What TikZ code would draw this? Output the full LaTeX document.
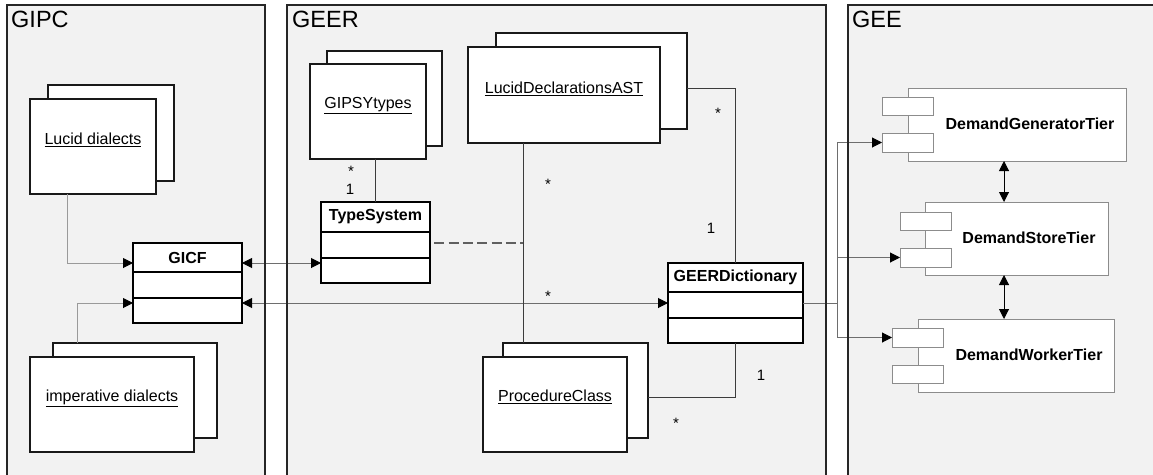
\documentclass[tikz,border=0pt]{standalone}
\usepackage{fontspec}
\setmainfont{Liberation Sans}
\usetikzlibrary{arrows.meta,calc}
\definecolor{panelfill}{HTML}{F2F2F2}
\definecolor{conncol}{HTML}{6E6E6E}
\definecolor{lconncol}{HTML}{9A9A9A}
\definecolor{assoccol}{HTML}{3C3C3C}
\definecolor{compcol}{HTML}{8C8C8C}
\definecolor{dashcol}{HTML}{606060}
\begin{document}
\begin{tikzpicture}[x=1pt,y=-1pt,
  panel/.style={fill=panelfill, draw=none, inner sep=0pt, outer sep=0pt, anchor=north west},
  panelborder/.style={draw=black!85, line width=1.2pt},
  sbox/.style={draw=black!90, fill=white, line width=1.2pt, inner sep=0pt, outer sep=0pt, anchor=north west},
  cbox/.style={draw=black, fill=white, line width=1.3pt, inner sep=0pt, outer sep=0pt, anchor=north west},
  comp/.style={draw=compcol, fill=white, line width=1pt, inner sep=0pt, outer sep=0pt, anchor=north west},
  ptitle/.style={font=\fontsize{23.5}{26}\selectfont, anchor=base west, inner sep=0pt},
  objtxt/.style={font=\fontsize{16}{18}\selectfont, inner sep=0pt},
  bldtxt/.style={font=\fontsize{16}{18}\selectfont\bfseries, inner sep=0pt},
  mult/.style={font=\fontsize{15}{17}\selectfont, inner sep=0pt},
  lconn/.style={draw=lconncol, line width=1pt},
  conn/.style={draw=conncol, line width=1pt},
  assoc/.style={draw=assoccol, line width=1pt},
  tierarrow/.style={draw=black, line width=1pt},
  >={Triangle[length=10pt,width=10pt,color=black]}
]
\useasboundingbox (0,0) rectangle (1153,474);
\clip (0,0) rectangle (1153,474);

% panels
\node[panel, minimum width=258pt, minimum height=480pt] (gipc) at (7,5) {};
\node[panel, minimum width=539pt, minimum height=480pt] (geer) at (287,5) {};
\node[panel, minimum width=320pt, minimum height=480pt] (gee) at (848,5) {};

% stacked object boxes
\node[sbox, minimum width=126pt, minimum height=96pt] (ldb) at (48,85) {};
\node[sbox, minimum width=126pt, minimum height=95pt] (ld) at (30,99) {};
\node[objtxt] (ldt) at (93,140) {\underline{Lucid dialects}};

\node[sbox, minimum width=164pt, minimum height=95pt] (ipb) at (53,343) {};
\node[sbox, minimum width=164pt, minimum height=95pt] (ip) at (30,357) {};
\node[objtxt] (ipt) at (112,398) {\underline{imperative dialects}};

\node[sbox, minimum width=115pt, minimum height=95pt] (gtb) at (327,51) {};
\node[sbox, minimum width=116pt, minimum height=95pt] (gt) at (310,64) {};
\node[objtxt] (gtt) at (368,106) {\underline{GIPSYtypes}};

\node[sbox, minimum width=191pt, minimum height=96pt] (ldab) at (496,33) {};
\node[sbox, minimum width=192pt, minimum height=96pt] (lda) at (468,47) {};
\node[objtxt] (ldat) at (564,89) {\underline{LucidDeclarationsAST}};

\node[sbox, minimum width=145pt, minimum height=95pt] (pcb) at (503,343) {};
\node[sbox, minimum width=144pt, minimum height=95pt] (pc) at (483,357) {};
\node[objtxt] (pct) at (555,397) {\underline{ProcedureClass}};

% class boxes
\node[cbox, minimum width=109pt, minimum height=80pt] (gicf) at (133,243) {};
\draw[line width=1.3pt] ([yshift=-29pt]gicf.north west) -- ([yshift=-29pt]gicf.north east);
\draw[line width=1.3pt] ([yshift=-55pt]gicf.north west) -- ([yshift=-55pt]gicf.north east);
\node[bldtxt] (gicft) at ([yshift=-14.5pt]gicf.north) {GICF};

\node[cbox, minimum width=109pt, minimum height=81pt] (ts) at (321,202) {};
\draw[line width=1.3pt] ([yshift=-30pt]ts.north west) -- ([yshift=-30pt]ts.north east);
\draw[line width=1.3pt] ([yshift=-56pt]ts.north west) -- ([yshift=-56pt]ts.north east);
\node[bldtxt] (tst) at ([yshift=-15pt]ts.north) {TypeSystem};

\node[cbox, minimum width=135pt, minimum height=80pt] (gd) at (668,263) {};
\draw[line width=1.3pt] ([yshift=-29pt]gd.north west) -- ([yshift=-29pt]gd.north east);
\draw[line width=1.3pt] ([yshift=-55pt]gd.north west) -- ([yshift=-55pt]gd.north east);
\node[bldtxt] (gdt) at ([yshift=-14.5pt]gd.north) {GEERDictionary};

% components
\node[comp, minimum width=218pt, minimum height=73pt] (dgt) at (908,88) {};
\node[comp, minimum width=51pt, minimum height=18pt] (dgtp1) at (882,97) {};
\node[comp, minimum width=51pt, minimum height=19pt] (dgtp2) at (882,133) {};
\node[bldtxt] (dgtt) at (1030,124) {DemandGeneratorTier};

\node[comp, minimum width=183pt, minimum height=73pt] (dst) at (925,202) {};
\node[comp, minimum width=51pt, minimum height=18pt] (dstp1) at (900,212) {};
\node[comp, minimum width=51pt, minimum height=19pt] (dstp2) at (900,248) {};
\node[bldtxt] (dstt) at (1029,238) {DemandStoreTier};

\node[comp, minimum width=196pt, minimum height=73pt] (dwt) at (918,319) {};
\node[comp, minimum width=51pt, minimum height=19pt] (dwtp1) at (892,328) {};
\node[comp, minimum width=51pt, minimum height=18pt] (dwtp2) at (892,365) {};
\node[bldtxt] (dwtt) at (1029,355) {DemandWorkerTier};

% connectors in GIPC
\draw[lconn,->] ([xshift=37pt]ld.south west) |- ([yshift=-20pt]gicf.north west);
\draw[lconn,->] ([xshift=24pt]ipb.north west) |- ([yshift=20pt]gicf.south west);

% GICF to TypeSystem and GEERDictionary
\draw[conn,<->] ([yshift=-20pt]gicf.north east) -- ([yshift=20pt]ts.south west);
\draw[conn,<->] ([yshift=20pt]gicf.south east) -- ([yshift=-40pt]gd.north west);

% associations in GEER
\draw[assoc] (ts.north) -- (ts.north |- gt.south);
\draw[assoc] ([xshift=55pt]lda.south west) -- ([xshift=20pt]pcb.north west);
\coordinate (dj) at ([xshift=55pt]lda.south west);
\coordinate (dashend) at (dj |- 0,243);
\draw[dashcol, line width=1.3pt, dash pattern=on 10pt off 4.3pt, dash phase=10pt]
  ([yshift=-41pt]ts.north east) -- (dashend);
\draw[assoc] ([yshift=-55pt]ldab.north east) -| (gd.north);
\draw[assoc] ([yshift=-54pt]pcb.north east) -| (gd.south);

% multiplicities
\node[mult] (m1) at (351,171) {*};
\node[mult] (m2) at (350,189) {1};
\node[mult] (m3) at (548,184) {*};
\node[mult] (m4) at (548,296) {*};
\node[mult] (m5) at (718,113) {*};
\node[mult] (m6) at (711,228) {1};
\node[mult] (m7) at (761,375) {1};
\node[mult] (m8) at (676,423) {*};

% GEERDictionary to tiers
\coordinate (trunk) at (837,303);
\draw[conn] ([yshift=-40pt]gd.north east) -- (trunk);
\draw[conn,->] (trunk) |- (dgtp2.west);
\draw[conn,->] (trunk) |- (dstp2.west);
\draw[conn,->] (trunk) |- (dwtp1.west);

% tier arrows
\draw[tierarrow,<->] ([xshift=96pt]dgt.south west) -- ([xshift=79pt]dst.north west);
\draw[tierarrow,<->] ([xshift=79pt]dst.south west) -- ([xshift=86pt]dwt.north west);

% panel borders and titles
\draw[panelborder] (gipc.south west) -- (gipc.north west) -- (gipc.north east) -- (gipc.south east);
\draw[panelborder] (geer.south west) -- (geer.north west) -- (geer.north east) -- (geer.south east);
\draw[panelborder] (gee.south west) -- (gee.north west) -- (gee.north east);
\node[ptitle] (gipcl) at (11,27) {GIPC};
\node[ptitle] (geerl) at (292,27) {GEER};
\node[ptitle] (geel) at (852,27) {GEE};
\end{tikzpicture}
\end{document}
